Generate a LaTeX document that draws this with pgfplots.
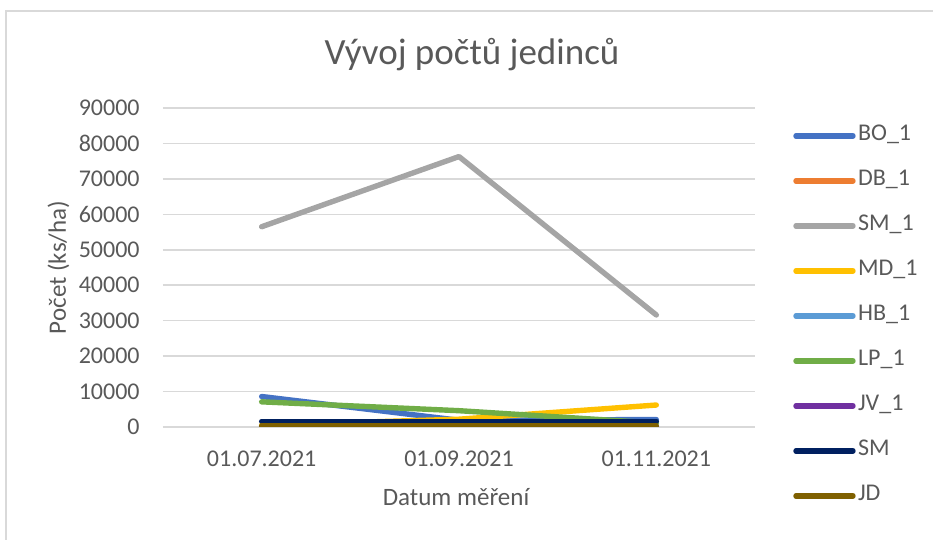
\documentclass[border=0pt]{standalone}
\usepackage{pgfplots}
\pgfplotsset{compat=1.18}
\usepackage{fontspec}
\setmainfont{Carlito}
\definecolor{txt}{HTML}{595959}
\definecolor{gridc}{HTML}{D9D9D9}
\definecolor{cBO}{HTML}{4472C4}
\definecolor{cDB}{HTML}{ED7D31}
\definecolor{cSMa}{HTML}{A5A5A5}
\definecolor{cMD}{HTML}{FFC000}
\definecolor{cHB}{HTML}{5B9BD5}
\definecolor{cLP}{HTML}{70AD47}
\definecolor{cJV}{HTML}{7030A0}
\definecolor{cSM}{HTML}{002060}
\definecolor{cJD}{HTML}{7F6000}
\begin{document}
\begin{tikzpicture}
\path[use as bounding box] (-81.5pt,-56.5pt) rectangle (385pt,213.5pt);
\draw[color=gridc, line width=0.6pt] (-78.5pt,-60pt) -- (-78.5pt,208pt) -- (390pt,208pt);
\begin{axis}[
 at={(0,0)}, anchor=south west, scale only axis, width=296pt, height=159.5pt,
 xmin=-0.5, xmax=2.5, ymin=0, ymax=90000,
 xtick={0,1,2}, xticklabels={01.07.2021,01.09.2021,01.11.2021},
 ytick={0,10000,...,90000},
 ymajorgrids, grid style={gridc, line width=0.8pt},
 axis line style={draw=none}, major tick length=0pt,
 tick label style={font=\fontsize{12}{14}\selectfont, color=txt},
 /pgf/number format/assume math mode=true,
 /pgf/number format/set thousands separator={},
 scaled y ticks=false,
 yticklabel style={anchor=east, inner sep=0pt, xshift=-11.5pt},
 xticklabel style={anchor=base, inner sep=0pt, yshift=-20pt},
 title={Vývoj počtů jedinců},
 title style={at={(axis description cs:0.522,1)}, anchor=base, yshift=16pt, font=\fontsize{18.5}{22}\selectfont, color=txt, inner sep=0pt},
 xlabel={Datum měření}, ylabel={Počet (ks/ha)},
 xlabel style={at={(axis description cs:0.495,0)}, anchor=base, yshift=-39.5pt, inner sep=0pt, font=\fontsize{12.5}{15}\selectfont, color=txt},
 ylabel style={at={(axis description cs:-0.1639,0.5)}, anchor=base, inner sep=0pt, font=\fontsize{12.5}{15}\selectfont, color=txt},
 legend style={at={(axis description cs:1.064,0.948)}, anchor=north west, draw=none, fill=none, inner sep=0pt, row sep=11.5pt, column sep=1.2pt, font=\fontsize{12}{14}\selectfont, text=txt, nodes={inner sep=0pt, text height=8pt, text depth=3pt}},
 legend cell align=left,
 legend image code/.code={\draw[#1, line cap=round] (0pt,0pt) -- (28.5pt,0pt);},
 every axis plot/.append style={line width=2.7pt, line cap=round, line join=round},
]
\addplot[cBO] coordinates {(0,8600) (1,1900) (2,2100)};
\addlegendentry{BO\_1}
\addplot[cDB] coordinates {(0,0) (1,0) (2,0)};
\addlegendentry{DB\_1}
\addplot[cSMa] coordinates {(0,56500) (1,76300) (2,31600)};
\addlegendentry{SM\_1}
\addplot[cMD] coordinates {(0,500) (1,2200) (2,6200)};
\addlegendentry{MD\_1}
\addplot[cHB] coordinates {(0,0) (1,0) (2,0)};
\addlegendentry{HB\_1}
\addplot[cLP] coordinates {(0,7100) (1,4600) (2,1100)};
\addlegendentry{LP\_1}
\addplot[cJV] coordinates {(0,0) (1,0) (2,0)};
\addlegendentry{JV\_1}
\addplot[cSM] coordinates {(0,1600) (1,1600) (2,1600)};
\addlegendentry{SM}
\addplot[cJD] coordinates {(0,300) (1,300) (2,300)};
\addlegendentry{JD}
\end{axis}
\end{tikzpicture}
\end{document}
